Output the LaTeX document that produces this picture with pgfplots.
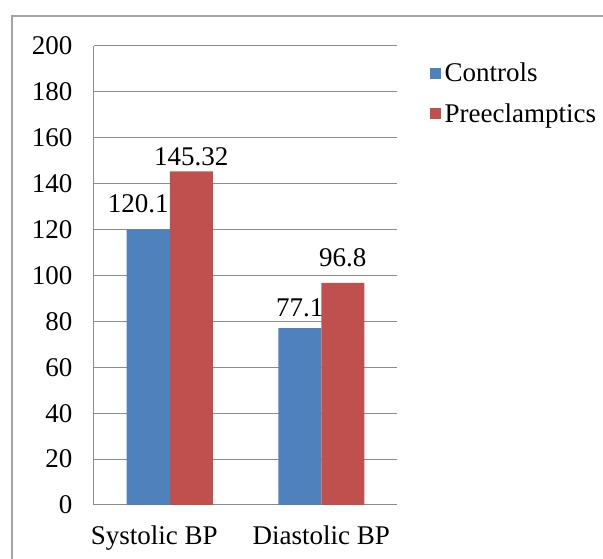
\documentclass[border=0pt]{standalone}
\usepackage{fontspec}
\setmainfont{Liberation Serif}
\usepackage{pgfplots}
\pgfplotsset{compat=1.18}
\definecolor{ctrl}{HTML}{4F81BD}
\definecolor{pree}{HTML}{C0504D}
\definecolor{gridc}{HTML}{8C8C8C}
% x, y, label offsets (dx, dy in pt)
\pgfplotstableread{
x y dx dy
0 120.1 -10 12.5
1 77.1 0 7.5
}\controls
\pgfplotstableread{
x y dx dy
0 145.32 0 2
1 96.8 0 12.5
}\preecl
\begin{document}
\begin{tikzpicture}[x=1pt,y=1pt]
\useasboundingbox (0,0) rectangle (603,559);
\draw[gridc!80, line width=1.5pt] (12,0) -- (12,543) -- (603,543);
\begin{axis}[
  at={(94pt,54pt)}, anchor=south west,
  scale only axis, width=303pt, height=459pt,
  ybar=0pt, bar width=43pt,
  xmin=-0.5, xmax=1.5, xtick={0,1},
  xticklabels={{Systolic BP\rule{31pt}{0pt}}, Diastolic BP},
  ymin=0, ymax=200, ytick distance=20,
  ymajorgrids, major grid style={gridc, line width=1pt},
  axis x line*=bottom, axis y line*=left,
  axis line style={gridc, line width=1pt},
  major tick length=0pt,
  /pgf/number format/assume math mode=true,
  tick label style={font=\fontsize{27}{32}\selectfont},
  yticklabel style={xshift=-18pt},
  xticklabel style={yshift=-17pt},
  nodes near coords,
  visualization depends on={\thisrow{dx} \as \ldx},
  visualization depends on={\thisrow{dy} \as \ldy},
  every node near coord/.append style={font=\fontsize{27}{32}\selectfont, black,
    xshift=\ldx pt, yshift=\ldy pt},
  legend style={at={(rel axis cs:1.097,0.972)}, anchor=north west, draw=none,
    font=\fontsize{27}{32}\selectfont, row sep=16pt},
  legend cell align=left,
  legend image code/.code={\fill[#1] (0pt,-5.5pt) rectangle (11pt,5.5pt); \path (13pt,0pt);},
]
\addplot[fill=ctrl, draw=none] table[x=x, y=y] {\controls};
\addplot[fill=pree, draw=none] table[x=x, y=y] {\preecl};
\legend{Controls, Preeclamptics}
\end{axis}
\end{tikzpicture}
\end{document}
